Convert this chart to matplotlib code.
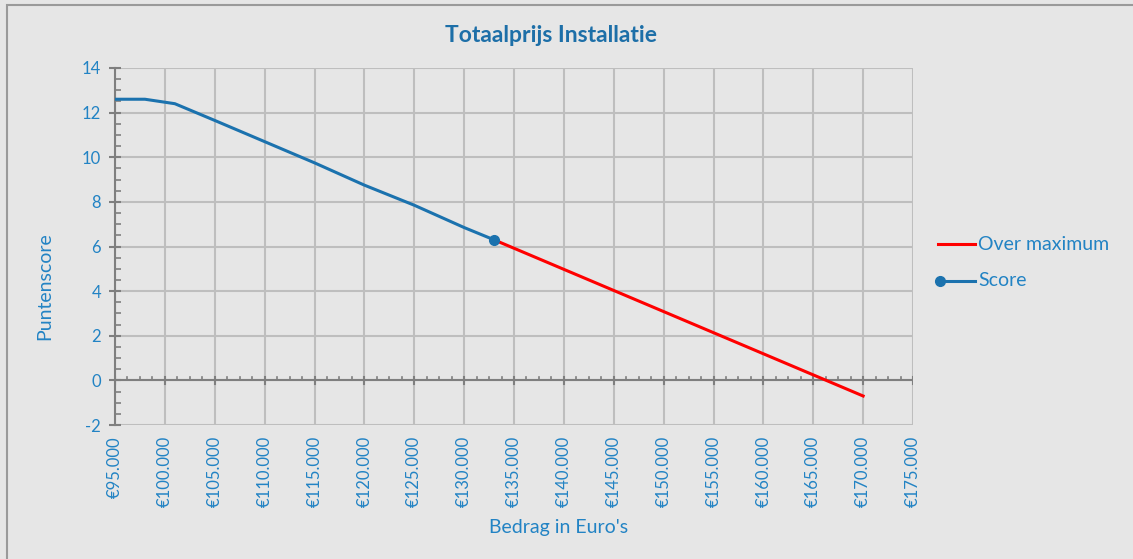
import matplotlib.pyplot as plt
import matplotlib.ticker as mticker
from matplotlib.patches import Rectangle
from matplotlib.lines import Line2D

# data
score_x = [95000, 98000, 101000, 105000, 110000, 115000, 120000, 125000, 130000, 133000]
score_y = [12.6, 12.6, 12.4, 11.65, 10.7, 9.75, 8.75, 7.85, 6.85, 6.3]
over_x = [133000, 170000]
over_y = [6.3, -0.7]

blue = '#1B72AE'
text_blue = '#2283C4'
bg = '#E6E6E6'

plt.rcParams['font.family'] = ['Lato', 'DejaVu Sans']
plt.rcParams['axes.unicode_minus'] = False

W, H = 1133, 559
fig = plt.figure(figsize=(W / 100, H / 100), dpi=100, facecolor=bg)
fig.patches.append(Rectangle((7 / W, -0.1), 1.2, 1 - 5 / H + 0.1,
                             transform=fig.transFigure, fill=False,
                             edgecolor='#9A9A9A', linewidth=1.5))

ax = fig.add_axes([115 / W, 1 - 425 / H, (913 - 115) / W, (425 - 68) / H])
ax.set_facecolor(bg)

ax.plot(over_x, over_y, color='#FF0000', linewidth=2.2, zorder=3)
ax.plot(score_x, score_y, color=blue, linewidth=2.2, zorder=4)
ax.plot(score_x[-1:], score_y[-1:], color=blue, marker='o', markersize=7, zorder=5)

ax.set_xlim(95000, 175000)
ax.set_ylim(-2, 14)
ax.xaxis.set_major_locator(mticker.MultipleLocator(5000))
ax.yaxis.set_major_locator(mticker.MultipleLocator(2))
ax.yaxis.set_minor_locator(mticker.MultipleLocator(0.5))
ax.xaxis.set_major_formatter(mticker.FuncFormatter(
    lambda v, p: '€{:,.0f}'.format(v).replace(',', '.')))

ax.grid(True, which='major', color='#BEBEBE', linewidth=1.5, zorder=0)
ax.set_axisbelow(True)

for s in ['top', 'right', 'bottom']:
    ax.spines[s].set_visible(False)
ax.spines['left'].set_color('#7F7F7F')
ax.spines['left'].set_linewidth(1.5)

# x-axis line at y=0 with its ticks
ax.axhline(0, color='#7F7F7F', linewidth=1.5, zorder=2)
for xv in range(95000, 175001, 1250):
    if (xv - 95000) % 5000 == 0:
        ax.plot([xv, xv], [-0.15, 0.15], color='#7F7F7F', linewidth=1.5, zorder=2)
    else:
        ax.plot([xv, xv], [0, 0.15], color='#7F7F7F', linewidth=1.2, zorder=2)

ax.tick_params(axis='x', which='both', length=0, pad=8, labelrotation=90,
               labelcolor=text_blue, labelsize=12)
ax.tick_params(axis='y', which='major', direction='inout', length=8, width=1.5,
               color='#7F7F7F', labelcolor=text_blue, labelsize=12, pad=6)
ax.tick_params(axis='y', which='minor', direction='in', length=4, width=1.2,
               color='#7F7F7F')

fig.text(551 / W, 1 - 35 / H, 'Totaalprijs Installatie', color='#1D6FA8',
         fontsize=16.5, fontweight='bold', ha='center', va='center')
ax.set_xlabel("Bedrag in Euro's", color=text_blue, fontsize=14)
ax.set_ylabel('Puntenscore', color=text_blue, fontsize=14)
ax.xaxis.set_label_coords((559 - 115) / (913 - 115), (425 - 527) / (425 - 68))
ax.yaxis.set_label_coords((45 - 115) / (913 - 115), (425 - 286) / (425 - 68))
ax.xaxis.label.set_va('center')
ax.yaxis.label.set_va('center')

# legend drawn at the right side, Excel style
fig.add_artist(Line2D([938 / W, 975 / W], [1 - 244 / H] * 2, color='#FF0000',
                      linewidth=2.2, transform=fig.transFigure))
fig.text(978 / W, 1 - 244 / H, 'Over maximum', color=text_blue, fontsize=14,
         va='center')
fig.add_artist(Line2D([940 / W, 975 / W], [1 - 281 / H] * 2, color=blue,
                      linewidth=2.2, marker='o', markersize=7, markevery=[0],
                      transform=fig.transFigure))
fig.text(978 / W, 1 - 281 / H, 'Score', color=text_blue, fontsize=14,
         va='center')

fig.savefig('out.png', dpi=100, facecolor=bg)
